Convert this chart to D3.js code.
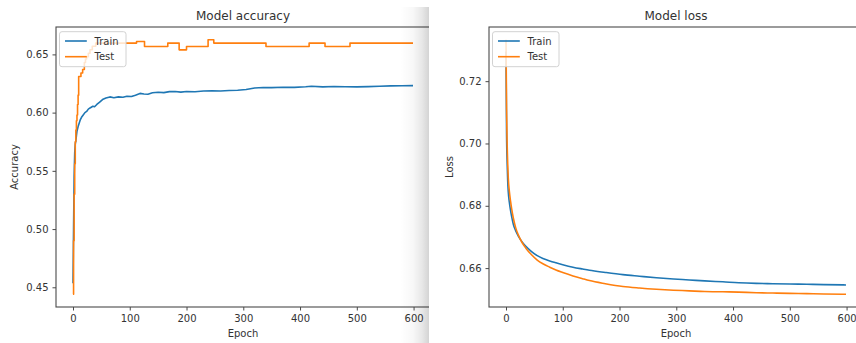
<!DOCTYPE html>
<html>
<head>
<meta charset="utf-8">
<script src="https://cdn.jsdelivr.net/npm/d3@7/dist/d3.min.js"></script>
<style>
  html, body { margin: 0; background: #fff; }
  svg { display: block; }
  text { font-family: "DejaVu Sans", sans-serif; fill: #333; }
</style>
</head>
<body>
<svg id="fig" width="856" height="343"></svg>
<script>
// ---- data ------------------------------------------------------------
const seriesNames = ["Train", "Test"];
const xTicks = [0, 100, 200, 300, 400, 500, 600];
const accTicks = [0.45, 0.50, 0.55, 0.60, 0.65];
const lossTicks = [0.66, 0.68, 0.70, 0.72];
const lastEpoch = 599;

// training accuracy per epoch (epoch, value)
const accTrain = [
  [0,0.4535],[1,0.50],[2,0.545],[3,0.565],[4,0.573],[5,0.576],[6,0.580],[7,0.584],
  [9,0.588],[11,0.591],[13,0.594],[15,0.596],[18,0.598],[21,0.600],[24,0.601],
  [27,0.603],[30,0.604],[35,0.6055],[38,0.605],[42,0.607],[47,0.609],[53,0.6115],
  [58,0.6125],[65,0.6135],[72,0.6128],[80,0.6135],[88,0.6132],[95,0.614],[103,0.6138],
  [110,0.615],[118,0.6165],[125,0.616],[132,0.6158],[140,0.617],[150,0.6175],
  [160,0.6172],[170,0.618],[180,0.6182],[190,0.6176],[200,0.6181],[215,0.6179],
  [230,0.6186],[245,0.6188],[260,0.6186],[275,0.619],[290,0.6192],[305,0.6198],
  [320,0.6212],[335,0.6216],[350,0.6215],[370,0.6218],[390,0.6217],[410,0.6222],
  [420,0.6226],[440,0.6221],[460,0.6224],[480,0.6222],[500,0.6221],[520,0.6223],
  [540,0.6226],[560,0.623],[580,0.6231],[599,0.6232]
];
// validation accuracy, held from each listed epoch until the next one
const accTest = [
  [0,0.444],[1,0.49],[2,0.53],[3,0.556],[4,0.575],[5,0.585],[6,0.593],[7,0.598],
  [8,0.607],[9,0.615],[10,0.631],[14,0.634],[17,0.637],[20,0.643],[22,0.646],
  [24,0.648],[27,0.651],[30,0.654],[34,0.657],[40,0.6597],[112,0.6611],[126,0.6568],
  [167,0.6597],[187,0.6539],[200,0.6568],[238,0.6626],[248,0.6597],[340,0.6568],
  [416,0.6597],[444,0.6568],[488,0.6597],[599,0.6597]
];
const lossTrain = [
  [0,0.7295],[1,0.703],[2,0.694],[3,0.688],[4,0.6845],[6,0.681],[8,0.6785],[10,0.6765],
  [13,0.674],[17,0.672],[22,0.6702],[28,0.6685],[35,0.667],[45,0.6653],[55,0.664],
  [65,0.6631],[77,0.6623],[88,0.6617],[100,0.6611],[118,0.6603],[135,0.6597],
  [147,0.6593],[175,0.6586],[206,0.6579],[235,0.6574],[265,0.6569],[295,0.6565],
  [323,0.6562],[350,0.6559],[382,0.6556],[410,0.6553],[441,0.6551],[470,0.655],
  [500,0.6549],[530,0.6548],[560,0.6547],[599,0.6546]
];
const lossTest = [
  [0,0.7333],[1,0.711],[2,0.700],[3,0.6935],[4,0.689],[6,0.6845],[8,0.6815],[10,0.679],
  [13,0.676],[17,0.673],[22,0.6705],[28,0.6683],[35,0.6664],[45,0.6643],[55,0.6626],
  [65,0.6614],[77,0.6603],[88,0.6594],[100,0.6586],[118,0.6575],[135,0.6566],
  [147,0.656],[175,0.655],[206,0.6541],[235,0.6536],[265,0.6532],[295,0.6529],
  [323,0.6527],[350,0.6525],[382,0.6524],[410,0.6523],[441,0.6521],[470,0.652],
  [500,0.6519],[530,0.6518],[560,0.6517],[599,0.6516]
];

// ---- styling ---------------------------------------------------------
const colors = ["#1f77b4", "#ff7f0e"];
const spineColor = "#4a4a4a";

const svg = d3.select("#fig");
const defs = svg.append("defs");

// pad an extent by 5% on each side
function padded(lo, hi) {
  const m = (hi - lo) * 0.05;
  return [lo - m, hi + m];
}

const panels = [
  { title: "Model accuracy", ylabel: "Accuracy", series: [accTrain, accTest],
    curves: [d3.curveLinear, d3.curveStepAfter], ticks: accTicks,
    left: 56, right: 430, top: 27, bottom: 307, clipW: 429, ylabelX: 17.5 },
  { title: "Model loss", ylabel: "Loss", series: [lossTrain, lossTest],
    curves: [d3.curveMonotoneX, d3.curveMonotoneX], ticks: lossTicks,
    left: 489, right: 863, top: 27, bottom: 307, clipW: 856, ylabelX: 452.5 }
];

panels.forEach((p, i) => {
  const all = p.series.flat().map(d => d[1]);
  const x = d3.scaleLinear().domain(padded(0, lastEpoch)).range([p.left, p.right]);
  const y = d3.scaleLinear().domain(padded(d3.min(all), d3.max(all))).range([p.bottom, p.top]);

  // whole-panel clip (the left figure is cut at its right border)
  defs.append("clipPath").attr("id", "panel" + i)
    .append("rect").attr("x", 0).attr("y", 0).attr("width", p.clipW).attr("height", 343);
  defs.append("clipPath").attr("id", "plot" + i)
    .append("rect").attr("x", p.left).attr("y", p.top)
    .attr("width", p.right - p.left).attr("height", p.bottom - p.top);

  const g = svg.append("g").attr("clip-path", `url(#panel${i})`);

  // data lines
  const plot = g.append("g").attr("clip-path", `url(#plot${i})`);
  p.series.forEach((s, k) => {
    const line = d3.line().x(d => x(d[0])).y(d => y(d[1])).curve(p.curves[k]);
    plot.append("path").datum(s).attr("d", line)
      .attr("fill", "none").attr("stroke", colors[k]).attr("stroke-width", 1.6)
      .attr("stroke-linejoin", "round");
  });

  // axes
  const xAxis = g.append("g").attr("transform", `translate(0,${p.bottom})`)
    .call(d3.axisBottom(x).tickValues(xTicks).tickFormat(d3.format("d"))
      .tickSize(3.5).tickPadding(4.5));
  const yAxis = g.append("g").attr("transform", `translate(${p.left},0)`)
    .call(d3.axisLeft(y).tickValues(p.ticks).tickFormat(d3.format(".2f"))
      .tickSize(3.5).tickPadding(4));
  [xAxis, yAxis].forEach(a => {
    a.select(".domain").remove();
    a.selectAll(".tick line").attr("stroke", spineColor).attr("stroke-width", 1);
    a.selectAll(".tick text").attr("font-size", 10).attr("fill", "#333")
      .style("font-family", "'DejaVu Sans', sans-serif");
  });

  // spines
  g.append("rect").attr("x", p.left).attr("y", p.top)
    .attr("width", p.right - p.left).attr("height", p.bottom - p.top)
    .attr("fill", "none").attr("stroke", spineColor).attr("stroke-width", 1.1);

  // titles and labels
  const cx = (p.left + p.right) / 2;
  g.append("text").attr("x", cx).attr("y", 20).attr("text-anchor", "middle")
    .attr("font-size", 12).text(p.title);
  g.append("text").attr("x", cx).attr("y", 336.5).attr("text-anchor", "middle")
    .attr("font-size", 10).text("Epoch");
  g.append("text").attr("transform", `translate(${p.ylabelX},${(p.top + p.bottom) / 2}) rotate(-90)`)
    .attr("text-anchor", "middle").attr("font-size", 10).text(p.ylabel);

  // legend
  const lg = g.append("g").attr("transform", `translate(${p.left + 3.5},${p.top + 4.7})`);
  lg.append("rect").attr("width", 66.5).attr("height", 35).attr("rx", 2.5)
    .attr("fill", "#fff").attr("fill-opacity", 0.8)
    .attr("stroke", "#d2d2d2").attr("stroke-width", 1);
  seriesNames.forEach((name, k) => {
    const yy = 9.3 + k * 15.7;
    lg.append("line").attr("x1", 5.5).attr("x2", 27.3).attr("y1", yy).attr("y2", yy)
      .attr("stroke", colors[k]).attr("stroke-width", 1.6);
    lg.append("text").attr("x", 35).attr("y", yy + 3.6).attr("font-size", 10).text(name);
  });
});

// soft shadow along the cut edge of the left figure
const grad = defs.append("linearGradient").attr("id", "edge")
  .attr("x1", "0").attr("x2", "1").attr("y1", "0").attr("y2", "0");
[[0, 0], [0.45, 0.03], [0.75, 0.09], [1, 0.17]].forEach(([o, a]) =>
  grad.append("stop").attr("offset", o).attr("stop-color", "#000").attr("stop-opacity", a));
svg.append("rect").attr("x", 400).attr("y", 7).attr("width", 29).attr("height", 336)
  .attr("fill", "url(#edge)");
</script>
</body>
</html>
